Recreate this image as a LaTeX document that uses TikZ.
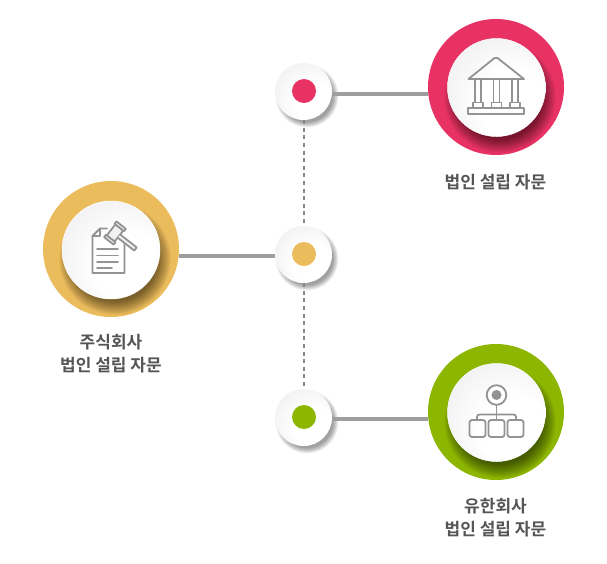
\documentclass[tikz,border=0pt]{standalone}
\usepackage{fontspec}
\newfontfamily\kr{Noto Sans CJK KR}[BoldFont={Noto Sans CJK KR Bold}]
\usetikzlibrary{calc,shadings}
\definecolor{cred}{HTML}{E83263}
\definecolor{cyel}{HTML}{EBBC5C}
\definecolor{cgrn}{HTML}{8DB600}
\definecolor{icon}{HTML}{939393}
\definecolor{ln}{HTML}{9E9E9E}
\definecolor{txt}{HTML}{555555}
\definecolor{disc}{HTML}{F1F1F3}
\pgfdeclareradialshading{discshade}{\pgfpoint{0.4cm}{-0.4cm}}{color(0cm)=(white);color(0.6cm)=(white);color(1.2cm)=(disc);color(2cm)=(disc)}
\tikzset{
 x=1pt,y=-1pt,
 ring/.style={circle,inner sep=0pt,minimum size=136pt},
 bigdisc/.style={circle,inner sep=0pt,minimum size=98pt,shading=discshade,draw=white,line width=.5pt},
 smalldisc/.style={circle,inner sep=0pt,minimum size=57pt,shading=discshade},
 dot/.style={circle,inner sep=0pt,minimum size=24pt},
 solidline/.style={draw=ln,line width=3.2pt},
 dashline/.style={draw=ln!85!black,line width=2pt,dash pattern=on 4pt off 3.6pt},
 lbl/.style={font=\kr\bfseries\fontsize{17}{23}\selectfont,text=txt,align=center,inner sep=0pt},
 ic/.style={draw=icon,line width=1.8pt,line join=round,line cap=round}
}
\newcommand{\bigshadow}[2]{% soft dark shadow of the disc, clipped to the ring
 \begin{scope}
  \clip (#1,#2) circle (68);
  \foreach \r in {42,42.5,...,56}{
   \fill[black,opacity=.02] ({#1+4},{#2+10}) circle (\r);
  }
 \end{scope}
}
\newcommand{\smallshadow}[2]{%
  \foreach \r in {26,26.5,...,31.5}{
   \fill[black,opacity=.035] ({#1+3},{#2+4}) circle (\r);
  }
}
\begin{document}
\begin{tikzpicture}
\useasboundingbox (0,0) rectangle (607,563);
\fill[white] (0,0) rectangle (607,563);

% big rings
\node[ring,fill=cred] (ringR) at (496,87) {};
\bigshadow{496}{87}
\node[ring,fill=cyel] (ringY) at (111,249) {};
\bigshadow{111}{249}
\node[ring,fill=cgrn] (ringG) at (496,412) {};
\bigshadow{496}{412}
\node[bigdisc] (discR) at (496.5,87.5) {};
\node[bigdisc] (discY) at (111,250) {};
\node[bigdisc] (discG) at (496.5,412.5) {};

% small shadows
\smallshadow{304}{92}
\smallshadow{304}{255}
\smallshadow{304}{418}
\node[smalldisc] (sR) at (303.5,91.5) {};
\node[smalldisc] (sY) at (303.5,254.5) {};
\node[smalldisc] (sG) at (303.5,417.5) {};
\node[dot,fill=cred] (dR) at (304,91) {};
\node[dot,fill=cyel] (dY) at (304,254) {};
\node[dot,fill=cgrn] (dG) at (304,417) {};

% connectors
\coordinate (rl) at (428,94); \coordinate (pr) at (332,94);
\coordinate (yl) at (179,256); \coordinate (py) at (275,256);
\coordinate (gl) at (428,419); \coordinate (pg) at (332,419);
\draw[solidline] (pr) -- (rl);
\draw[solidline] (yl) -- (py);
\draw[solidline] (pg) -- (gl);
\draw[dashline] (sR.south) -- (sY.north);
\draw[dashline] (sY.south) -- (sG.north);

% bank icon
\draw[ic] (468.5,79) -- (494.5,58) .. controls (495.5,57.3) and (496.5,57.3) .. (497.5,58) -- (524,79) -- cycle;
\foreach \cx in {478,496.5,515}{
 \draw[ic] (\cx-3,79) -- (\cx-3,102) (\cx+3,79) -- (\cx+3,102);
 \draw[ic] (\cx-5,108) -- (\cx-5,102.5) -- (\cx+5,102.5) -- (\cx+5,108);
}
\draw[ic] (468,108) rectangle (524,114);

% document + gavel icon
\draw[ic] (107,228.5) -- (100,228.5) -- (92.5,236) -- (92.5,273) -- (124.5,273) -- (124.5,241);
\draw[ic] (100,228.5) -- (100,236) -- (92.5,236);
\draw[ic] (97,249) -- (118,249) (97,255.5) -- (118,255.5) (97,262) -- (118,262) (97,268) -- (112,268);
\begin{scope}[shift={(115,233)},rotate=52]
 \draw[ic,fill=disc] (-7,-5) rectangle (7,5);
 \draw[ic,fill=disc] (-10,-6) rectangle (-7,6);
 \draw[ic,fill=disc] (7,-6) rectangle (10,6);
 \draw[ic,fill=disc] (-2,5) -- (-2,26) -- (2,26) -- (2,5);
\end{scope}

% org chart icon
\draw[ic] (496.5,395) circle (9.8);
\fill[icon] (496.5,395) circle (5);
\draw[ic] (496.5,405) -- (496.5,419);
\draw[ic] (477,420) -- (477,417) .. controls (477,415) and (478,414.5) .. (480,414.5) -- (513,414.5) .. controls (515,414.5) and (516,415) .. (516,417) -- (516,420);
\foreach \cx in {477.5,496.5,515.5}{
 \draw[ic,rounded corners=2.5pt] (\cx-8,420) rectangle (\cx+8,437);
}

% labels
\node[lbl] (tR) at (495.5,182) {법인 설립 자문};
\node[lbl] (tY) at (111,354) {주식회사\\법인 설립 자문};
\node[lbl] (tG) at (495.5,518) {유한회사\\법인 설립 자문};
\end{tikzpicture}
\end{document}
